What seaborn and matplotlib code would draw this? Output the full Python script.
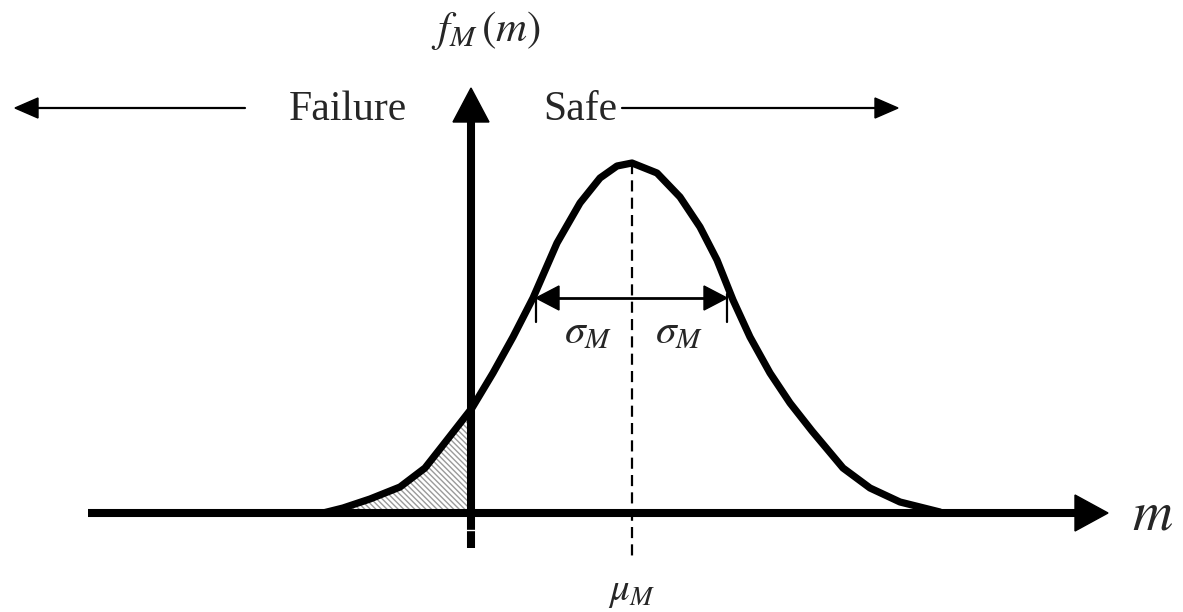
import matplotlib
matplotlib.use("Agg")
import matplotlib.pyplot as plt
from matplotlib.patches import Polygon
import numpy as np
import seaborn as sns

# ---- data (x in px, h = height above baseline in px)
curve_x = [323, 343, 370, 400, 425, 447, 472, 493, 513, 533, 557, 580, 600, 617,
           632, 657, 680, 700, 717, 733, 750, 770, 790, 812, 843, 870, 900, 940]
curve_h = [0, 5, 14, 26, 45, 73, 105, 140, 176, 215, 270, 310, 335, 347,
           350, 340, 316, 286, 253, 213, 176, 140, 110, 82, 45, 25, 11, 1]
mu_x = 632
sigma_left_x = 536
sigma_right_x = 727
failure_x = 470
labels = {"failure": "Failure", "safe": "Safe", "ylab": r"$f_M\,(m)$",
          "xlab": r"$m$", "sigma": r"$\sigma_M$", "mu": r"$\mu_M$"}

sns.set_theme(style="white")
plt.rcParams["font.family"] = ["Liberation Serif", "DejaVu Serif"]
plt.rcParams["mathtext.fontset"] = "stix"

W, H = 1183, 612
fig = plt.figure(figsize=(W / 100, H / 100), dpi=100)
ax = fig.add_axes([0, 0, 1, 1])
ax.set_xlim(0, W)
ax.set_ylim(513 - H, 513)
ax.axis("off")

cx = np.array(curve_x, float)
ch = np.array(curve_h, float)

# hatched failure region (curve up to the vertical axis)
mask = (cx >= 343) & (cx <= failure_x + 2)
plt.rcParams["hatch.linewidth"] = 1.0
ax.fill_between(cx[mask], ch[mask], 0, facecolor="white", edgecolor="#9a9a9a",
                hatch="\\\\\\\\\\\\", linewidth=0, zorder=1)

# curve
sns.lineplot(x=cx, y=ch, sort=False, color="black", lw=5.2, ax=ax, zorder=3,
             solid_capstyle="round", solid_joinstyle="round")

# horizontal axis with arrow
ax.plot([88, 1080], [0, 0], color="black", lw=5.8, solid_capstyle="butt", zorder=4)
ax.add_patch(Polygon([[1108, 0], [1075, 18], [1075, -18]], closed=True,
                     color="black", zorder=4))
# vertical axis with arrow
ax.plot([failure_x + 1, failure_x + 1], [-35, 395], color="black", lw=5.8,
        solid_capstyle="butt", zorder=4)
ax.plot([failure_x - 4, failure_x + 6], [-17, -17], color="white", lw=1.0, zorder=5)
ax.add_patch(Polygon([[failure_x + 1, 425], [failure_x - 17, 391], [failure_x + 19, 391]],
                     closed=True, color="black", zorder=4))

# mean dashed line
ax.plot([mu_x, mu_x], [350, -45], color="black", lw=1.6, ls=(0, (5, 2.8)), zorder=2)

# sigma arrows
sy = 215
ax.plot([sigma_left_x + 20, sigma_right_x - 20], [sy, sy], color="black", lw=2.0, zorder=4)
ax.add_patch(Polygon([[sigma_left_x, sy], [sigma_left_x + 23, sy + 12], [sigma_left_x + 23, sy - 12]],
                     closed=True, color="black", zorder=4))
ax.add_patch(Polygon([[sigma_right_x, sy], [sigma_right_x - 23, sy + 12], [sigma_right_x - 23, sy - 12]],
                     closed=True, color="black", zorder=4))
for tx in (sigma_left_x, sigma_right_x):
    ax.plot([tx, tx], [sy + 4, sy - 24], color="black", lw=1.6, zorder=4)
ax.text(588, 180, labels["sigma"], fontsize=30, ha="center", va="center")
ax.text(679, 180, labels["sigma"], fontsize=30, ha="center", va="center")

# top labels and arrows
ty = 405
ax.text(348, 403, labels["failure"], fontsize=30, ha="center", va="center")
ax.text(580, 403, labels["safe"], fontsize=30, ha="center", va="center")
ax.plot([37, 245], [ty, ty], color="black", lw=1.6, zorder=4)
ax.add_patch(Polygon([[15, ty], [38, ty + 10], [38, ty - 10]], closed=True, color="black"))
ax.plot([622, 876], [ty, ty], color="black", lw=1.6, zorder=4)
ax.add_patch(Polygon([[898, ty], [875, ty + 10], [875, ty - 10]], closed=True, color="black"))

ax.text(486, 482, labels["ylab"], fontsize=31, ha="center", va="center")
ax.text(1153, -2, labels["xlab"], fontsize=40, ha="center", va="center")
ax.text(mu_x, -78, labels["mu"], fontsize=28, ha="center", va="center")

fig.savefig("out.png", dpi=100, facecolor="white")
